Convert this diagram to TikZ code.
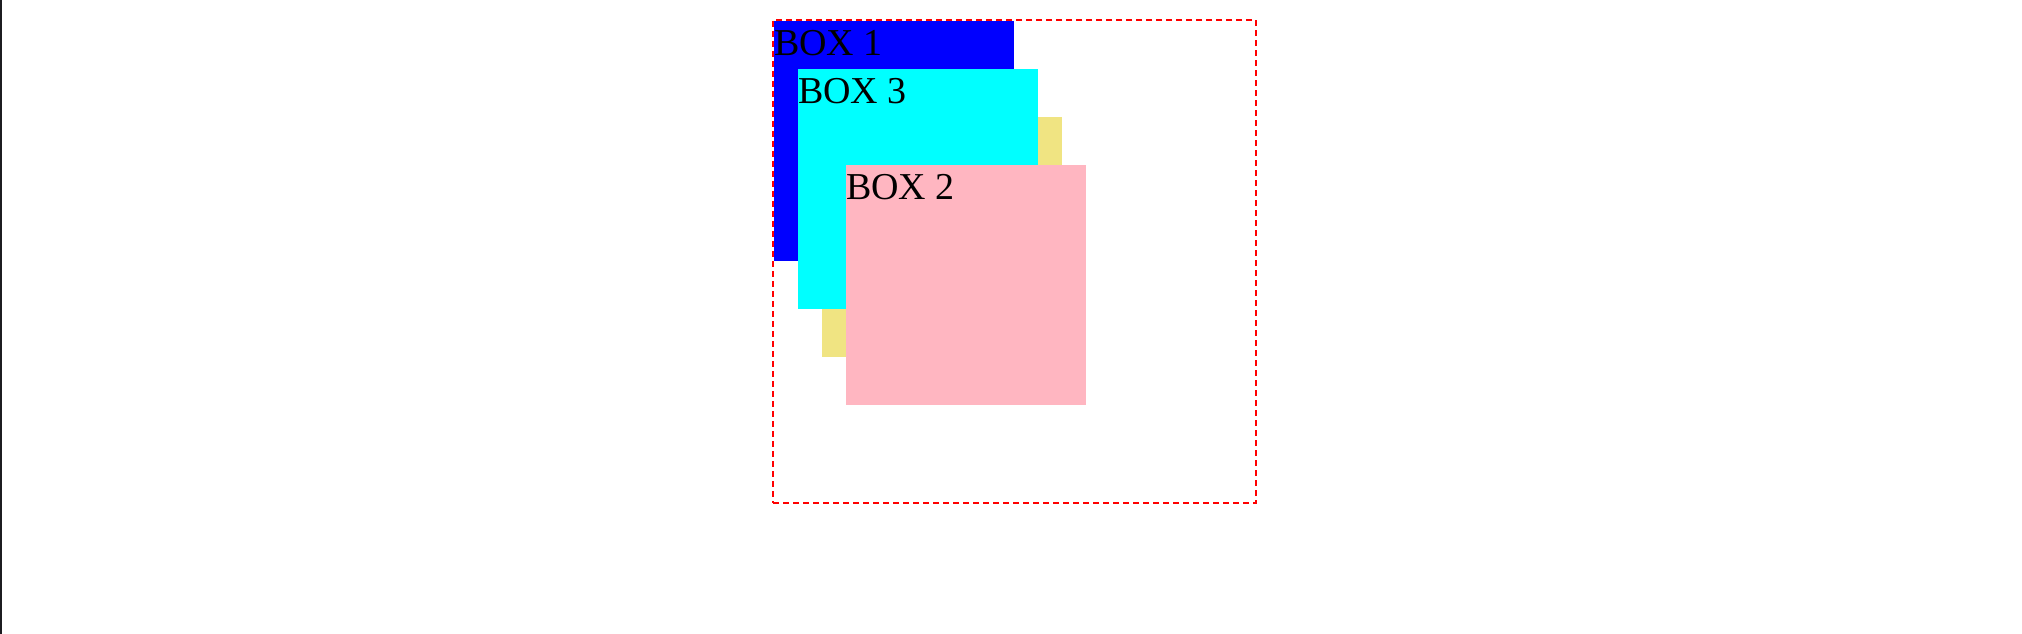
\documentclass[tikz,border=0pt]{standalone}
\usepackage{fontspec}
\setmainfont{Liberation Serif}
\usetikzlibrary{positioning}
\definecolor{khakibox}{RGB}{240,228,130}
\definecolor{pinkbox}{RGB}{255,182,193}
\definecolor{aquabox}{RGB}{0,255,255}
\definecolor{bluebox}{RGB}{0,0,255}
\definecolor{edgegray}{RGB}{28,28,32}
\begin{document}
\begin{tikzpicture}[x=1pt, y=-1pt, box/.style = {minimum width=240pt, minimum height=240pt, inner sep=0pt, outer sep=0pt, anchor=north west},
				boxlabel/.style={anchor=base west, inner sep=0pt, font=\fontsize{38}{44}\selectfont}]
				
				\useasboundingbox (0,0) rectangle (2022,634);
				\fill[edgegray] (0,0) rectangle (2,634);
				
				\node[box, fill=bluebox] (b1) at (774,21) {};
				\node[box, fill=khakibox] (b4) at (822,117) {};
				\node[box, fill=aquabox] (b3) at (798,69) {};
				\node[box, fill=pinkbox] (b2) at (846,165) {};
				
				\node[boxlabel] (l1) at ([yshift=-34.5pt]b1.north west) {BOX 1};
				\node[boxlabel] (l3) at ([yshift=-34.5pt]b3.north west) {BOX 3};
				\node[boxlabel] (l2) at ([yshift=-34.5pt]b2.north west) {BOX 2};
				
				\node[draw=red, line width=2pt, dash pattern=on 6pt off 4pt, minimum width=483pt, minimum height=483pt, inner sep=0pt, anchor=north west] (frame) at (772,19) {};
			\end{tikzpicture}
\end{document}
